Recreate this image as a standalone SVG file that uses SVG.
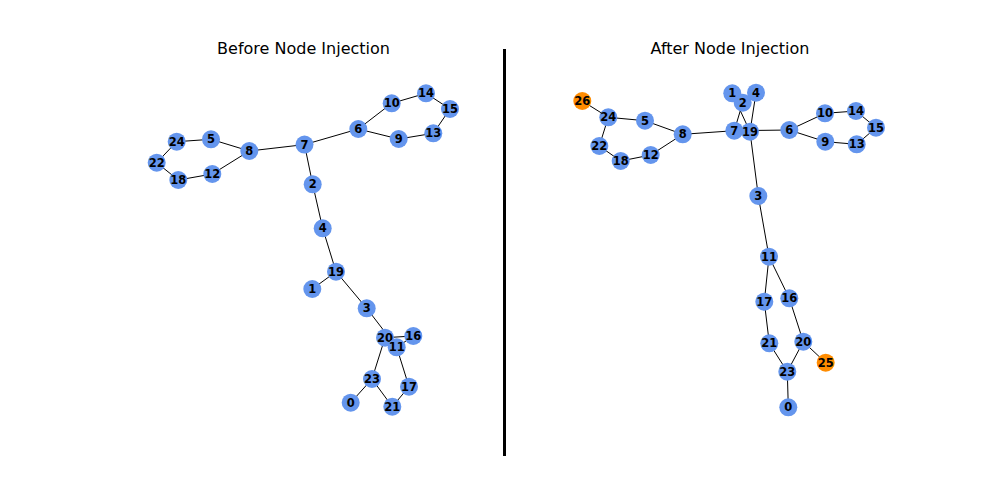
<svg xmlns="http://www.w3.org/2000/svg" width="1008" height="504" viewBox="0 0 1008 504">
<style>
.e{stroke:#000;stroke-width:1;fill:none}
.n circle{fill:#6495ED}
.n.o circle{fill:#FF8C00}
.n text{font-family:"DejaVu Sans",sans-serif;font-weight:bold;font-size:11.5px;text-anchor:middle;dominant-baseline:central;fill:#000}
.t{font-family:"DejaVu Sans",sans-serif;font-size:16px;text-anchor:middle;fill:#000}
</style>
<rect width="1008" height="504" fill="#fff"/>
<text class="t" x="303.5" y="54.3">Before Node Injection</text>
<text class="t" x="730" y="54.3">After Node Injection</text>
<line x1="504.5" y1="49" x2="504.5" y2="456" stroke="#000" stroke-width="3"/>
<g id="edges-before" class="e">
<line x1="304.5" y1="144.6" x2="358.3" y2="129"/>
<line x1="304.5" y1="144.6" x2="249.3" y2="151"/>
<line x1="304.5" y1="144.6" x2="312.7" y2="184.3"/>
<line x1="312.7" y1="184.3" x2="322.7" y2="228.3"/>
<line x1="322.7" y1="228.3" x2="336" y2="271.7"/>
<line x1="336" y1="271.7" x2="312.3" y2="289"/>
<line x1="336" y1="271.7" x2="366.7" y2="308.3"/>
<line x1="366.7" y1="308.3" x2="396.7" y2="347.3"/>
<line x1="396.7" y1="347.3" x2="413.3" y2="336"/>
<line x1="385" y1="337.7" x2="413.3" y2="336"/>
<line x1="396.7" y1="347.3" x2="409" y2="386.7"/>
<line x1="409" y1="386.7" x2="392.3" y2="406.7"/>
<line x1="392.3" y1="406.7" x2="372" y2="379"/>
<line x1="372" y1="379" x2="385" y2="337.7"/>
<line x1="372" y1="379" x2="350.7" y2="402.7"/>
<line x1="358.3" y1="129" x2="391.7" y2="103.3"/>
<line x1="358.3" y1="129" x2="398.7" y2="139"/>
<line x1="391.7" y1="103.3" x2="426" y2="93.3"/>
<line x1="426" y1="93.3" x2="450" y2="109"/>
<line x1="450" y1="109" x2="433.3" y2="133.3"/>
<line x1="433.3" y1="133.3" x2="398.7" y2="139"/>
<line x1="249.3" y1="151" x2="211" y2="139.3"/>
<line x1="211" y1="139.3" x2="176.7" y2="141.7"/>
<line x1="176.7" y1="141.7" x2="156.7" y2="162.7"/>
<line x1="156.7" y1="162.7" x2="178.3" y2="180"/>
<line x1="178.3" y1="180" x2="212.3" y2="174"/>
<line x1="212.3" y1="174" x2="249.3" y2="151"/>
</g>
<g id="edges-after" class="e">
<line x1="734.3" y1="130.7" x2="789.3" y2="130"/>
<line x1="734.3" y1="130.7" x2="682.7" y2="134.3"/>
<line x1="734.3" y1="130.7" x2="742.7" y2="102.7"/>
<line x1="742.7" y1="102.7" x2="756" y2="92.7"/>
<line x1="756" y1="92.7" x2="750" y2="131.7"/>
<line x1="750" y1="131.7" x2="732.3" y2="93.3"/>
<line x1="750" y1="131.7" x2="758.3" y2="196"/>
<line x1="758.3" y1="196" x2="769" y2="256.7"/>
<line x1="769" y1="256.7" x2="789.3" y2="298.3"/>
<line x1="789.3" y1="298.3" x2="803.3" y2="341.7"/>
<line x1="769" y1="256.7" x2="764.3" y2="301.7"/>
<line x1="764.3" y1="301.7" x2="769.3" y2="343.3"/>
<line x1="769.3" y1="343.3" x2="787.3" y2="371.7"/>
<line x1="787.3" y1="371.7" x2="803.3" y2="341.7"/>
<line x1="787.3" y1="371.7" x2="788.3" y2="407.3"/>
<line x1="803.3" y1="341.7" x2="825.7" y2="362.7"/>
<line x1="789.3" y1="130" x2="825" y2="113.3"/>
<line x1="789.3" y1="130" x2="825.3" y2="141.7"/>
<line x1="825" y1="113.3" x2="856" y2="111"/>
<line x1="856" y1="111" x2="876" y2="127.7"/>
<line x1="876" y1="127.7" x2="856.7" y2="144.3"/>
<line x1="856.7" y1="144.3" x2="825.3" y2="141.7"/>
<line x1="682.7" y1="134.3" x2="645" y2="120.7"/>
<line x1="645" y1="120.7" x2="608.3" y2="117.3"/>
<line x1="608.3" y1="117.3" x2="599.3" y2="146"/>
<line x1="599.3" y1="146" x2="620.7" y2="161"/>
<line x1="620.7" y1="161" x2="650.7" y2="155"/>
<line x1="650.7" y1="155" x2="682.7" y2="134.3"/>
<line x1="608.3" y1="117.3" x2="582.3" y2="101"/>
</g>
<g id="before-nodes">
<g id="b0" class="n"><circle cx="350.7" cy="402.7" r="9"/><text x="350.7" y="402.7">0</text></g>
<g id="b1" class="n"><circle cx="312.3" cy="289" r="9"/><text x="312.3" y="289">1</text></g>
<g id="b2" class="n"><circle cx="312.7" cy="184.3" r="9"/><text x="312.7" y="184.3">2</text></g>
<g id="b3" class="n"><circle cx="366.7" cy="308.3" r="9"/><text x="366.7" y="308.3">3</text></g>
<g id="b4" class="n"><circle cx="322.7" cy="228.3" r="9"/><text x="322.7" y="228.3">4</text></g>
<g id="b5" class="n"><circle cx="211" cy="139.3" r="9"/><text x="211" y="139.3">5</text></g>
<g id="b6" class="n"><circle cx="358.3" cy="129" r="9"/><text x="358.3" y="129">6</text></g>
<g id="b7" class="n"><circle cx="304.5" cy="144.6" r="9"/><text x="304.5" y="144.6">7</text></g>
<g id="b8" class="n"><circle cx="249.3" cy="151" r="9"/><text x="249.3" y="151">8</text></g>
<g id="b9" class="n"><circle cx="398.7" cy="139" r="9"/><text x="398.7" y="139">9</text></g>
<g id="b10" class="n"><circle cx="391.7" cy="103.3" r="9"/><text x="391.7" y="103.3">10</text></g>
<g id="b12" class="n"><circle cx="212.3" cy="174" r="9"/><text x="212.3" y="174">12</text></g>
<g id="b13" class="n"><circle cx="433.3" cy="133.3" r="9"/><text x="433.3" y="133.3">13</text></g>
<g id="b14" class="n"><circle cx="426" cy="93.3" r="9"/><text x="426" y="93.3">14</text></g>
<g id="b15" class="n"><circle cx="450" cy="109" r="9"/><text x="450" y="109">15</text></g>
<g id="b16" class="n"><circle cx="413.3" cy="336" r="9"/><text x="413.3" y="336">16</text></g>
<g id="b17" class="n"><circle cx="409" cy="386.7" r="9"/><text x="409" y="386.7">17</text></g>
<g id="b18" class="n"><circle cx="178.3" cy="180" r="9"/><text x="178.3" y="180">18</text></g>
<g id="b19" class="n"><circle cx="336" cy="271.7" r="9"/><text x="336" y="271.7">19</text></g>
<g id="b20" class="n"><circle cx="385" cy="337.7" r="9"/><text x="385" y="337.7">20</text></g>
<g id="b11" class="n"><circle cx="396.7" cy="347.3" r="9"/><text x="396.7" y="347.3">11</text></g>
<g id="b21" class="n"><circle cx="392.3" cy="406.7" r="9"/><text x="392.3" y="406.7">21</text></g>
<g id="b22" class="n"><circle cx="156.7" cy="162.7" r="9"/><text x="156.7" y="162.7">22</text></g>
<g id="b23" class="n"><circle cx="372" cy="379" r="9"/><text x="372" y="379">23</text></g>
<g id="b24" class="n"><circle cx="176.7" cy="141.7" r="9"/><text x="176.7" y="141.7">24</text></g>
</g>
<g id="after-nodes">
<g id="a0" class="n"><circle cx="788.3" cy="407.3" r="9"/><text x="788.3" y="407.3">0</text></g>
<g id="a1" class="n"><circle cx="732.3" cy="93.3" r="9"/><text x="732.3" y="93.3">1</text></g>
<g id="a4" class="n"><circle cx="756" cy="92.7" r="9"/><text x="756" y="92.7">4</text></g>
<g id="a2" class="n"><circle cx="742.7" cy="102.7" r="9"/><text x="742.7" y="102.7">2</text></g>
<g id="a3" class="n"><circle cx="758.3" cy="196" r="9"/><text x="758.3" y="196">3</text></g>
<g id="a5" class="n"><circle cx="645" cy="120.7" r="9"/><text x="645" y="120.7">5</text></g>
<g id="a6" class="n"><circle cx="789.3" cy="130" r="9"/><text x="789.3" y="130">6</text></g>
<g id="a7" class="n"><circle cx="734.3" cy="130.7" r="9"/><text x="734.3" y="130.7">7</text></g>
<g id="a19" class="n"><circle cx="750" cy="131.7" r="9"/><text x="750" y="131.7">19</text></g>
<g id="a8" class="n"><circle cx="682.7" cy="134.3" r="9"/><text x="682.7" y="134.3">8</text></g>
<g id="a9" class="n"><circle cx="825.3" cy="141.7" r="9"/><text x="825.3" y="141.7">9</text></g>
<g id="a10" class="n"><circle cx="825" cy="113.3" r="9"/><text x="825" y="113.3">10</text></g>
<g id="a11" class="n"><circle cx="769" cy="256.7" r="9"/><text x="769" y="256.7">11</text></g>
<g id="a12" class="n"><circle cx="650.7" cy="155" r="9"/><text x="650.7" y="155">12</text></g>
<g id="a13" class="n"><circle cx="856.7" cy="144.3" r="9"/><text x="856.7" y="144.3">13</text></g>
<g id="a14" class="n"><circle cx="856" cy="111" r="9"/><text x="856" y="111">14</text></g>
<g id="a15" class="n"><circle cx="876" cy="127.7" r="9"/><text x="876" y="127.7">15</text></g>
<g id="a16" class="n"><circle cx="789.3" cy="298.3" r="9"/><text x="789.3" y="298.3">16</text></g>
<g id="a17" class="n"><circle cx="764.3" cy="301.7" r="9"/><text x="764.3" y="301.7">17</text></g>
<g id="a18" class="n"><circle cx="620.7" cy="161" r="9"/><text x="620.7" y="161">18</text></g>
<g id="a20" class="n"><circle cx="803.3" cy="341.7" r="9"/><text x="803.3" y="341.7">20</text></g>
<g id="a21" class="n"><circle cx="769.3" cy="343.3" r="9"/><text x="769.3" y="343.3">21</text></g>
<g id="a22" class="n"><circle cx="599.3" cy="146" r="9"/><text x="599.3" y="146">22</text></g>
<g id="a23" class="n"><circle cx="787.3" cy="371.7" r="9"/><text x="787.3" y="371.7">23</text></g>
<g id="a24" class="n"><circle cx="608.3" cy="117.3" r="9"/><text x="608.3" y="117.3">24</text></g>
<g id="a25" class="n o"><circle cx="825.7" cy="362.7" r="9"/><text x="825.7" y="362.7">25</text></g>
<g id="a26" class="n o"><circle cx="582.3" cy="101" r="9"/><text x="582.3" y="101">26</text></g>
</g>
</svg>
